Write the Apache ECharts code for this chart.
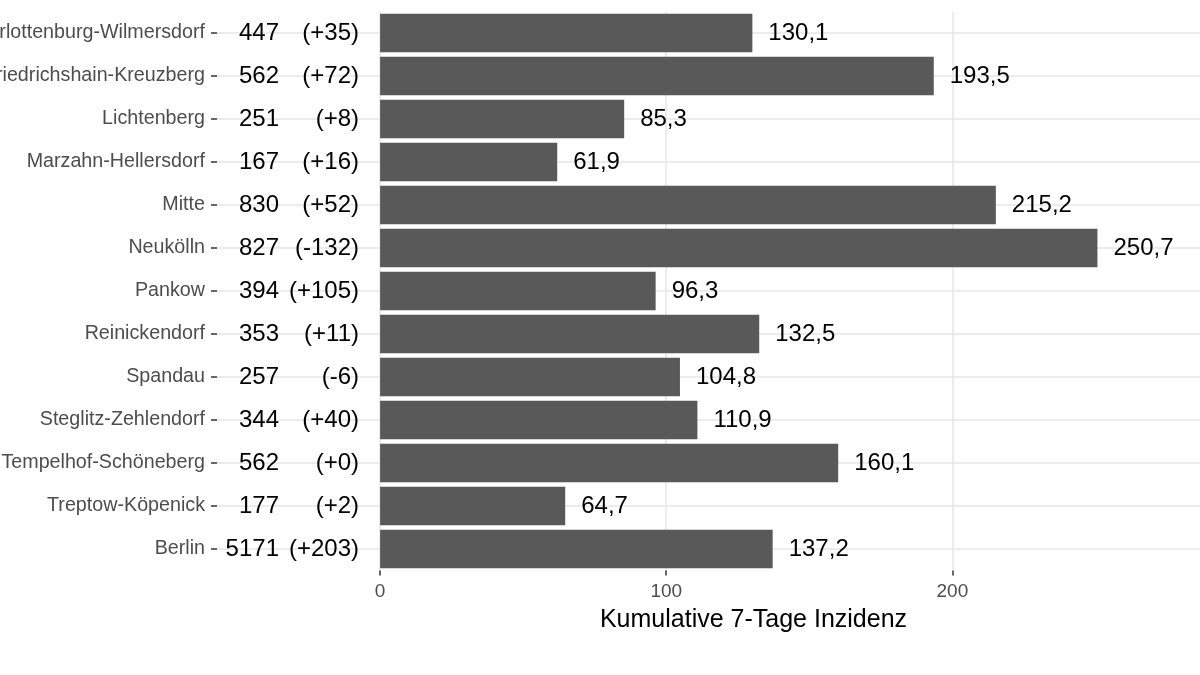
<!DOCTYPE html>
<html>
<head>
<meta charset="utf-8">
<script src="https://cdn.jsdelivr.net/npm/echarts@6/dist/echarts.min.js"></script>
<style>html,body{margin:0;padding:0;background:#fff}#c{width:1200px;height:675px}</style>
</head>
<body>
<div id="c"></div>
<script>
const districts = ['Charlottenburg-Wilmersdorf','Friedrichshain-Kreuzberg','Lichtenberg','Marzahn-Hellersdorf','Mitte','Neukölln','Pankow','Reinickendorf','Spandau','Steglitz-Zehlendorf','Tempelhof-Schöneberg','Treptow-Köpenick','Berlin'];
const cases = [447, 562, 251, 167, 830, 827, 394, 353, 257, 344, 562, 177, 5171];
const changes = [35, 72, 8, 16, 52, -132, 105, 11, -6, 40, 0, 2, 203];
const incidence = [130.1, 193.5, 85.3, 61.9, 215.2, 250.7, 96.3, 132.5, 104.8, 110.9, 160.1, 64.7, 137.2];
const xTicks = [0, 100, 200];

const FONT = 'Liberation Sans, Arial, Helvetica, sans-serif';
const fmtChange = v => '(' + (v < 0 ? '-' : '+') + Math.abs(v) + ')';
const fmtDec = v => v.toFixed(1).replace('.', ',');

const chart = echarts.init(document.getElementById('c'), null, {renderer: 'canvas'});
chart.setOption({
  animation: false,
  backgroundColor: '#ffffff',
  textStyle: {fontFamily: FONT},
  grid: {left: 217, right: -90, top: 11.5, bottom: 104.5, containLabel: false, outerBoundsMode: 'none'},
  xAxis: {
    type: 'value', min: -57, max: 318,
    name: 'Kumulative 7-Tage Inzidenz', nameLocation: 'middle', nameGap: 37,
    nameTextStyle: {fontSize: 25, color: '#000', fontFamily: FONT},
    axisLine: {show: false},
    axisTick: {show: true, customValues: xTicks, length: 5, lineStyle: {color: '#333', width: 1.5}},
    axisLabel: {customValues: xTicks, fontSize: 19, color: '#4d4d4d', margin: 12, fontFamily: FONT},
    splitLine: {show: false}
  },
  yAxis: [
    {
      type: 'category', data: districts, inverse: true, position: 'left',
      axisLine: {show: false, onZero: false},
      axisTick: {show: true, alignWithLabel: true, length: 6, lineStyle: {color: '#333', width: 1.5}},
      axisLabel: {fontSize: 19.7, color: '#4d4d4d', margin: 12, fontFamily: FONT},
      splitLine: {show: false}
    },
    {
      type: 'category', data: districts, inverse: true, position: 'left', offset: -142, z: 5,
      axisLine: {show: false, onZero: false},
      axisTick: {show: false},
      axisLabel: {
        margin: 0,
        formatter: (v, i) => '{a|' + cases[i] + '}{b|' + fmtChange(changes[i]) + '}',
        rich: {
          a: {fontSize: 24, color: '#000', fontFamily: FONT},
          b: {fontSize: 24, color: '#000', fontFamily: FONT, width: 80, align: 'right'}
        }
      },
      splitLine: {show: false}
    }
  ],
  series: [
    {
      type: 'line', data: [], z: 0, silent: true,
      markLine: {
        silent: true, symbol: 'none', label: {show: false}, z: 0,
        lineStyle: {color: '#e6e6e6', width: 1.5, type: 'solid'},
        data: districts.map(d => ({yAxis: d})).concat(xTicks.map(t => ({xAxis: t})))
      }
    },
    {
      type: 'bar', data: incidence, yAxisIndex: 0, barCategoryGap: '10%', z: 2,
      itemStyle: {color: '#595959'},
      label: {show: true, position: 'right', distance: 16, fontSize: 24, color: '#000', fontFamily: FONT,
        formatter: p => fmtDec(p.value)}
    }
  ]
});
</script>
</body>
</html>
